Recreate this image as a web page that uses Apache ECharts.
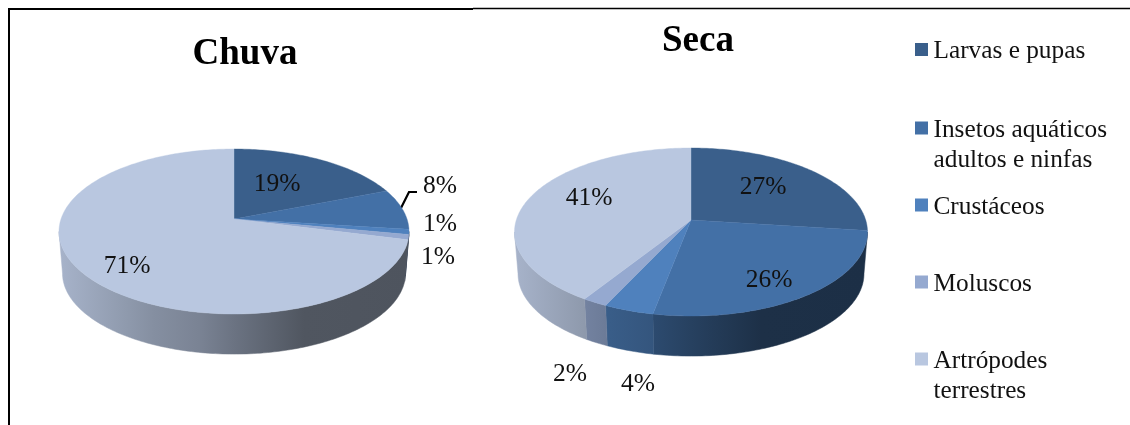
<!DOCTYPE html>
<html>
<head>
<meta charset="utf-8">
<style>html,body{margin:0;padding:0;background:#fff}#c{width:1130px;height:425px}</style>
<script src="https://cdn.jsdelivr.net/npm/echarts@6/dist/echarts.min.js"></script>
</head>
<body>
<div id="c"></div>
<script>
// ---- data ----
const categories = ['Larvas e pupas', 'Insetos aquáticos\nadultos e ninfas', 'Crustáceos', 'Moluscos', 'Artrópodes\nterrestres'];
const chuvaValues = [19, 8, 1, 1, 71];
const secaValues = [27, 26, 4, 2, 41];
const titles = ['Chuva', 'Seca'];

// ---- style and layout ----
const colors = ['#3A5F8B', '#4370A6', '#4F81BD', '#95A9D0', '#B9C7E0'];
const chuvaLayout = { cx: 234, cy: 219, up: 70, down: 95, rx: 175, depth: 42,
  labels: [[277, 183], [440, 185], [440, 223], [438, 256], [127, 265]] };
const secaLayout = { cx: 691, cy: 220, up: 72, down: 96, rx: 176.5, depth: 42,
  labels: [[763, 186], [769, 279], [638, 383], [570, 373], [589, 197]] };
const legendTops = [49.5, 128, 205, 282, 359];
const shade = [[0, .90], [.2, .77], [.27, .72], [.4, .66], [.5, .58], [.7, .43], [1, .42]];

function darken(hex, f) {
  const n = parseInt(hex.slice(1), 16);
  return 'rgb(' + [(n >> 16) & 255, (n >> 8) & 255, n & 255].map(c => Math.round(c * f)).join(',') + ')';
}

// Perspective view of a flat disc: the centre is not the middle of the ellipse.
function projector(L) {
  const k = (L.down - L.up) / (L.down + L.up);
  const S = L.up * (1 + k);
  const R = L.rx * Math.sqrt(1 - k * k);
  return {
    k,
    top(deg) {
      const a = deg * Math.PI / 180, u = Math.sin(a), v = Math.cos(a), w = 1 + k * v;
      return [L.cx + R * u / w, L.cy - S * v / w];
    },
    bottom(deg) {
      const p = this.top(deg);
      return [L.cx + (p[0] - L.cx) * .98, L.cy + L.depth + (p[1] - L.cy) * .98];
    }
  };
}

function arc(fn, a, b) {
  const pts = [];
  const n = Math.max(2, Math.ceil(Math.abs(b - a)));
  for (let i = 0; i <= n; i++) pts.push(fn(a + (b - a) * i / n));
  return pts;
}

function pieSeries(name, values, L) {
  const P = projector(L);
  const total = values.reduce((s, v) => s + v, 0);
  const vis = Math.acos(-P.k) * 180 / Math.PI;
  const visFrom = vis, visTo = 360 - vis;
  return {
    type: 'custom', name, coordinateSystem: 'none', silent: true, animation: false,
    data: values.map((v, i) => ({ name: categories[i], value: [v] })),
    renderItem(params, api) {
      const i = params.dataIndex;
      const before = values.slice(0, i).reduce((s, v) => s + v, 0);
      const a = before / total * 360;
      const b = (before + api.value(0)) / total * 360;
      const children = [];
      const wa = Math.max(a, visFrom), wb = Math.min(b, visTo);
      if (wb > wa) {
        const x0 = L.cx - L.rx, x1 = L.cx + L.rx;
        const fill = new echarts.graphic.LinearGradient(x0, 0, x1, 0,
          shade.map(s => ({ offset: s[0], color: darken(colors[i], s[1]) })), true);
        children.push({
          type: 'polygon', z2: 1,
          shape: { points: arc(d => P.top(d), wa, wb).concat(arc(d => P.bottom(d), wb, wa)) },
          style: { fill, stroke: fill, lineWidth: .5 }
        });
      }
      children.push({
        type: 'polygon', z2: 2,
        shape: { points: [[L.cx, L.cy]].concat(arc(d => P.top(d), a, b)) },
        style: { fill: colors[i], stroke: colors[i], lineWidth: .4 }
      });
      children.push({
        type: 'text', z2: 5, x: L.labels[i][0], y: L.labels[i][1] + 1.5,
        style: { text: api.value(0) + '%', font: '25.5px "Liberation Serif"', fill: '#111', align: 'center', verticalAlign: 'middle' }
      });
      return { type: 'group', children };
    }
  };
}

const graphics = [
  { type: 'line', shape: { x1: 9, y1: 9, x2: 473, y2: 9 }, style: { stroke: '#000', lineWidth: 2 } },
  { type: 'line', shape: { x1: 473, y1: 8.5, x2: 1130, y2: 8.5 }, style: { stroke: '#000', lineWidth: 1.3 } },
  { type: 'line', shape: { x1: 9, y1: 8, x2: 9, y2: 425 }, style: { stroke: '#000', lineWidth: 2 } },
  { type: 'polyline', shape: { points: [[401, 208], [409, 192], [417, 192]] }, style: { stroke: '#000', lineWidth: 2.2, fill: 'none' } }
];
categories.forEach((c, i) => {
  graphics.push({ type: 'rect', shape: { x: 915, y: legendTops[i] - 6.5, width: 13, height: 13 }, style: { fill: colors[i] } });
  graphics.push({ type: 'text', x: 933.5, y: legendTops[i] - 13,
    style: { text: c, font: '25.3px "Liberation Serif"', fill: '#111', lineHeight: 30, align: 'left', verticalAlign: 'top' } });
});

const chart = echarts.init(document.getElementById('c'), null, { renderer: 'canvas' });
chart.setOption({
  backgroundColor: '#fff',
  animation: false,
  title: [
    { text: titles[0], left: 240, top: 31, textAlign: 'center', textStyle: { fontFamily: 'Liberation Serif', fontSize: 37, fontWeight: 'bold', color: '#000' } },
    { text: titles[1], left: 693, top: 18, textAlign: 'center', textStyle: { fontFamily: 'Liberation Serif', fontSize: 37, fontWeight: 'bold', color: '#000' } }
  ],
  series: [pieSeries(titles[0], chuvaValues, chuvaLayout), pieSeries(titles[1], secaValues, secaLayout)],
  graphic: graphics
});
</script>
</body>
</html>
